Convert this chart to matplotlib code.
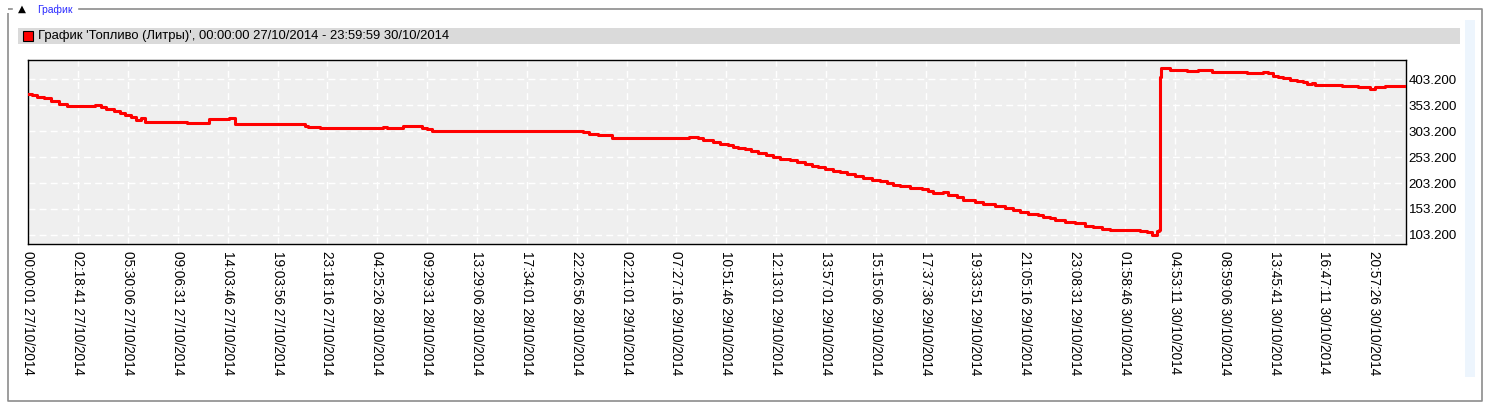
import numpy as np
import matplotlib.pyplot as plt
from matplotlib.patches import Rectangle

plt.rcParams['font.family'] = ['Liberation Sans', 'DejaVu Sans']

# sample counter (tick labels sit every 100 samples) and fuel level, litres
samples = [0, 7, 17, 31, 46, 62, 77, 134, 146, 156, 171, 183, 194, 207, 217, 226, 234,
           318, 363, 403, 415, 555, 562, 585, 712, 720, 752, 790, 800, 810, 1113, 1125,
           1143, 1171, 1325, 1343, 1353, 1374, 1387, 1404, 1414, 1424, 1438, 1450, 1464,
           1480, 1494, 1508, 1528, 1542, 1558, 1572, 1584, 1598, 1614, 1628, 1642, 1658,
           1674, 1692, 1708, 1722, 1734, 1748, 1769, 1793, 1805, 1815, 1835, 1845, 1863,
           1875, 1899, 1915, 1939, 1959, 1975, 1989, 2005, 2025, 2036, 2050, 2060, 2080,
           2100, 2120, 2136, 2154, 2170, 2230, 2244, 2254, 2264, 2269, 2270, 2272, 2290,
           2296, 2324, 2334, 2346, 2374, 2445, 2477, 2487, 2497, 2507, 2517, 2531, 2545,
           2557, 2565, 2575, 2581, 2587, 2635, 2667, 2691, 2701, 2721, 2763]
litres = [374.4, 372.4, 369.2, 366.1, 361.6, 355.8, 352.0, 353.8, 349.4, 344.9, 341.1,
          337.8, 334.0, 330.1, 325.0, 327.6, 321.1, 318.6, 325.7, 327.6, 316.7, 313.5,
          311.5, 309.6, 311.5, 309.6, 312.2, 309.6, 307.0, 303.2, 301.3, 298.0, 294.9,
          290.3, 292.3, 290.3, 286.5, 282.0, 278.2, 275.7, 273.1, 270.5, 268.0, 265.3,
          261.5, 257.6, 253.8, 250.0, 248.0, 244.2, 240.4, 236.5, 234.0, 230.8, 226.9,
          223.8, 220.5, 217.2, 213.4, 209.6, 206.5, 203.8, 200.0, 197.5, 194.2, 191.7,
          187.8, 184.0, 185.5, 180.1, 176.9, 171.1, 167.3, 163.4, 159.0, 155.2, 150.7,
          146.9, 144.2, 142.3, 138.5, 135.3, 132.1, 128.8, 125.7, 121.1, 118.0, 114.8,
          112.8, 110.4, 108.4, 103.9, 110.9, 113.0, 407.4, 423.8, 421.1, 420.5, 418.0,
          419.2, 421.1, 417.2, 415.3, 417.2, 414.2, 409.6, 407.0, 404.5, 401.9, 399.4,
          396.8, 393.0, 394.9, 391.7, 391.1, 389.2, 387.2, 384.6, 387.8, 390.3, 390.3]

tick_labels = ['00:00:01 27/10/2014', '02:18:41 27/10/2014', '05:30:06 27/10/2014',
               '09:06:31 27/10/2014', '14:03:46 27/10/2014', '19:03:56 27/10/2014',
               '23:18:16 27/10/2014', '04:25:26 28/10/2014', '09:29:31 28/10/2014',
               '13:29:06 28/10/2014', '17:34:01 28/10/2014', '22:26:56 28/10/2014',
               '02:21:01 29/10/2014', '07:27:16 29/10/2014', '10:51:46 29/10/2014',
               '12:13:01 29/10/2014', '13:57:01 29/10/2014', '15:15:06 29/10/2014',
               '17:37:36 29/10/2014', '19:33:51 29/10/2014', '21:05:16 29/10/2014',
               '23:08:31 29/10/2014', '01:58:46 30/10/2014', '04:53:11 30/10/2014',
               '08:59:06 30/10/2014', '13:45:41 30/10/2014', '16:47:11 30/10/2014',
               '20:57:26 30/10/2014']
y_ticks = [103.2, 153.2, 203.2, 253.2, 303.2, 353.2, 403.2]

W, H = 1490, 407
fig = plt.figure(figsize=(W / 100, H / 100), dpi=100)

# panel decoration drawn in pixel coords
bg = fig.add_axes([0, 0, 1, 1], zorder=0)
bg.set_xlim(0, W)
bg.set_ylim(H, 0)
bg.axis('off')
grey = '#8c8c8c'
bg.plot([8, 8, 1482, 1482, 8], [13, 401, 401, 9, 9], color=grey, lw=1.2, solid_capstyle='butt')
bg.add_patch(Rectangle((13, 5), 64, 9, color='white', zorder=3))
bg.text(22, 8.5, '▲', fontsize=7.5, ha='center', va='center', zorder=4, family=['DejaVu Sans'])
bg.text(37, 9.5, 'График', fontsize=7.5, color='#2a2aff', va='center', zorder=4)
bg.add_patch(Rectangle((18, 28), 1442, 16, color='#dadada', lw=0))
bg.add_patch(Rectangle((23, 31), 10, 10, facecolor='#ff0000', edgecolor='black', lw=0.8))
bg.text(38, 36.5, "График 'Топливо (Литры)', 00:00:00 27/10/2014 - 23:59:59 30/10/2014",
        fontsize=9.4, va='center')
bg.add_patch(Rectangle((1465, 20), 10, 357, color='#edf5fd', lw=0))

ax = fig.add_axes([28.3 / W, 1 - 244.3 / H, (1405.7 - 28.3) / W, (244.3 - 60.3) / H], zorder=1)
ax.set_facecolor('#efefef')
ax.plot(samples, litres, drawstyle='steps-post', color='#ff0000', lw=2.2, zorder=3)

ax.set_xlim(0, 2763)
ax.set_ylim(85.3, 439.2)
ax.set_xticks(np.arange(len(tick_labels)) * 100)
ax.set_xticklabels(tick_labels, rotation=270, fontsize=9.8, va='top', ha='center')
ax.set_yticks(y_ticks)
ax.set_yticklabels(['{:.3f}'.format(v) for v in y_ticks], fontsize=9.6)
ax.yaxis.tick_right()
ax.tick_params(axis='y', length=0, pad=2)
ax.tick_params(axis='x', length=0, pad=5)
ax.grid(color='white', linestyle=(0, (5, 3)), lw=1)
for s in ax.spines.values():
    s.set_color('black')
    s.set_linewidth(1)

plt.savefig('out.png', dpi=100)
